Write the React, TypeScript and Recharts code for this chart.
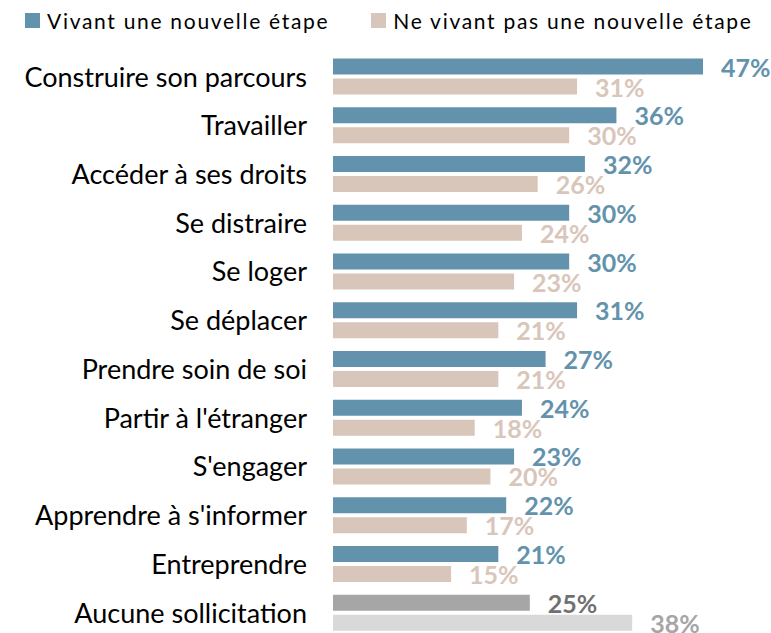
import React from "react";
import { BarChart, Bar, XAxis, YAxis, Cell, LabelList } from "recharts";

const categories = [
  "Construire son parcours",
  "Travailler",
  "Accéder à ses droits",
  "Se distraire",
  "Se loger",
  "Se déplacer",
  "Prendre soin de soi",
  "Partir à l'étranger",
  "S'engager",
  "Apprendre à s'informer",
  "Entreprendre",
  "Aucune sollicitation",
];
const vivant = [47, 36, 32, 30, 30, 31, 27, 24, 23, 22, 21, 25];
const nonVivant = [31, 30, 26, 24, 23, 21, 21, 18, 20, 17, 15, 38];

const BLUE = "#6393ac";
const BEIGE = "#d9c6ba";
const DARK_GREY = "#a6a6a6";
const LIGHT_GREY = "#d9d9d9";

const data = categories.map((name, i) => ({ name, vivant: vivant[i], nonVivant: nonVivant[i] }));

const FONT = "Lato, 'Open Sans', sans-serif";

function makeLabel(colors: string[]) {
  return (props: any) => {
    const { x, y, width, height, value, index } = props;
    return (
      <text
        x={x + width + 18}
        y={y + height / 2}
        dominantBaseline="central"
        fill={colors[index]}
        fontFamily={FONT}
        fontWeight={700}
        fontSize={25}
      >
        {value}%
      </text>
    );
  };
}

const blueLabels = categories.map((_, i) => (i === categories.length - 1 ? "#707070" : BLUE));
const beigeLabels = categories.map((_, i) => (i === categories.length - 1 ? "#a6a6a6" : BEIGE));

export default function App() {
  return (
    <div style={{ position: "absolute", left: 0, top: 0, width: 771, height: 633, overflow: "hidden", background: "#fff" }}>
      <div
        style={{
          position: "absolute",
          left: 25,
          top: 6,
          height: 28,
          display: "flex",
          alignItems: "center",
          fontFamily: FONT,
          fontSize: 21,
          letterSpacing: 1.7,
          color: "#000",
          whiteSpace: "nowrap",
        }}
      >
        <span style={{ width: 15, height: 15, background: BLUE, display: "inline-block", marginRight: 7 }} />
        <span>Vivant une nouvelle étape</span>
        <span style={{ width: 15, height: 15, background: BEIGE, display: "inline-block", marginLeft: 42, marginRight: 7 }} />
        <span>Ne vivant pas une nouvelle étape</span>
      </div>
      <BarChart
        width={771}
        height={640}
        data={data}
        layout="vertical"
        margin={{ top: 52.6, right: 5, bottom: 2.6, left: 0 }}
        barSize={16}
        barGap={4}
      >
        <XAxis type="number" domain={[0, 55]} hide />
        <YAxis
          type="category"
          dataKey="name"
          width={333}
          axisLine={false}
          tickLine={false}
          tickSize={0}
          tickMargin={26}
          interval={0}
          tick={{ fill: "#000", fontSize: 27, fontFamily: FONT }}
        />
        <Bar dataKey="vivant" fill={BLUE} isAnimationActive={false}>
          {data.map((_, i) => (
            <Cell key={i} fill={i === data.length - 1 ? DARK_GREY : BLUE} />
          ))}
          <LabelList dataKey="vivant" content={makeLabel(blueLabels)} />
        </Bar>
        <Bar dataKey="nonVivant" fill={BEIGE} isAnimationActive={false}>
          {data.map((_, i) => (
            <Cell key={i} fill={i === data.length - 1 ? LIGHT_GREY : BEIGE} />
          ))}
          <LabelList dataKey="nonVivant" content={makeLabel(beigeLabels)} />
        </Bar>
      </BarChart>
    </div>
  );
}
